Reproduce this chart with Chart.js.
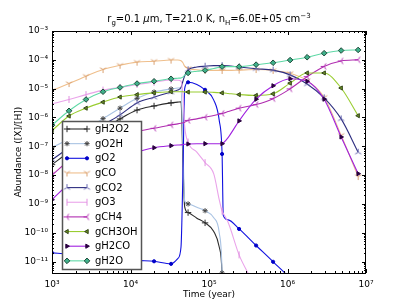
<!DOCTYPE html>
<html lang="en">
<head>
<meta charset="UTF-8">
<title>Grain abundances</title>
<script src="https://cdn.jsdelivr.net/npm/chart.js@4.4.1/dist/chart.umd.min.js"></script>
<style>
  html, body { margin: 0; padding: 0; background: #fff; }
  #wrap { width: 407px; height: 305px; }
</style>
</head>
<body>
<div id="wrap"><canvas id="chart" width="407" height="305"></canvas></div>
<script>
// time grid (years); markers sit on the rows listed in markedRows
const years = [1000, 1647, 2712, 4467, 7356, 12115, 19953, 32862, 40000, 44000, 46500, 49000,
  54117, 70000, 89125, 115000, 135000, 146780, 152000, 175000, 241732, 398107, 655642,
  1079800, 1778300, 2928600, 4823200, 7943300];
const markedRows = [0, 1, 2, 3, 4, 5, 6, 7, 12, 14, 17, 20, 21, 22, 23, 24, 25, 26, 27];

const gH2O2 = [2.3e-8, 6.3e-8, 1.6e-7, 3.8e-7, 8.9e-7, 1.8e-6, 2.5e-6, 3.2e-6, 3.4e-6, 3.5e-6, 3.2e-8, 7.9e-10,
  5e-10, 3.2e-10, 2.2e-10, 1.1e-10, 3.2e-11, 3.2e-12, 1e-14, 1e-15, 1e-15, 1e-15, 1e-15, 1e-15, 1e-15, 1e-15, 1e-15, 1e-15];
const gO2H = [8.9e-8, 1.8e-7, 3.8e-7, 9.1e-7, 2.1e-6, 4.6e-6, 7.6e-6, 9.8e-6, 1.05e-5, 1.07e-5, 1e-7, 1.26e-9,
  1e-9, 7.6e-10, 5.8e-10, 3.3e-10, 1e-10, 4e-12, 1e-14, 1e-15, 1e-15, 1e-15, 1e-15, 1e-15, 1e-15, 1e-15, 1e-15, 1e-15];
const gO2 = [2.0e-11, 1.8e-11, 1.6e-11, 1.4e-11, 1.26e-11, 1.1e-11, 1.02e-11, 8.3e-12, 1.26e-11, 3.2e-11, 1e-8, 1e-5,
  1.66e-5, 1.4e-5, 9.1e-6, 4e-6, 7.9e-7, 5.4e-8, 4e-10, 2.8e-10, 1.35e-10, 3.6e-11, 9.8e-12, 2.5e-12, 3.2e-13, 1e-14, 1e-15, 1e-15];
const gCO = [8.5e-6, 1.5e-5, 2.7e-5, 4.6e-5, 6.5e-5, 8.3e-5, 8.9e-5, 9.8e-5, 9.8e-5, 9.3e-5, 7.9e-5, 6.0e-5,
  5.0e-5, 4.5e-5, 4.3e-5, 4.3e-5, 4.3e-5, 4.3e-5, 4.3e-5, 4.3e-5, 4.4e-5, 4.6e-5, 4.3e-5, 3.4e-5, 1.9e-5, 5.0e-6, 2.4e-7, 8.9e-9];
const gCO2 = [3.4e-8, 8.9e-8, 2.2e-7, 5.4e-7, 1.23e-6, 3.2e-6, 5.0e-6, 7.6e-6, 8.9e-6, 1.1e-5, 1.8e-5, 2.8e-5,
  4.5e-5, 5.6e-5, 6.0e-5, 6.3e-5, 6.3e-5, 6.3e-5, 6.3e-5, 6.2e-5, 5.6e-5, 4.9e-5, 4.4e-5, 3.0e-5, 1.45e-5, 4.8e-6, 8.9e-7, 6.2e-8];
const gO3 = [2.95e-6, 4.2e-6, 6.2e-6, 8.9e-6, 1.1e-5, 1.4e-5, 1.66e-5, 2.0e-5, 1.95e-5, 1.8e-5, 6.3e-6, 5.0e-7,
  1.4e-7, 6.3e-8, 2.7e-8, 1.1e-8, 1.4e-9, 5.6e-10, 4.7e-10, 2.3e-10, 1.7e-11, 1e-12, 1e-14, 1e-15, 1e-15, 1e-15, 1e-15, 1e-15];
const gCH4 = [1.0e-8, 3.2e-8, 7.9e-8, 1.6e-7, 2.5e-7, 3.3e-7, 4.2e-7, 5.5e-7, 6.0e-7, 6.3e-7, 6.5e-7, 6.8e-7,
  7.9e-7, 8.9e-7, 1.02e-6, 1.17e-6, 1.3e-6, 1.38e-6, 1.4e-6, 1.6e-6, 2.1e-6, 2.8e-6, 4.5e-6, 9.8e-6, 2.6e-5, 5.9e-5, 9.1e-5, 1.0e-4];
const gCH3OH = [3.5e-7, 1.12e-6, 2.1e-6, 3.4e-6, 5.1e-6, 6.2e-6, 7.1e-6, 7.8e-6, 7.8e-6, 7.8e-6, 7.8e-6, 7.7e-6,
  7.6e-6, 7.6e-6, 7.6e-6, 7.4e-6, 7.2e-6, 7.1e-6, 7.1e-6, 6.8e-6, 6.2e-6, 5.8e-6, 6.6e-6, 1.55e-5, 3.5e-5, 3.5e-5, 1.05e-5, 1.15e-6];
const gH2CO = [1.4e-9, 5e-9, 1.26e-8, 2.5e-8, 4.2e-8, 6.3e-8, 8.9e-8, 1.05e-7, 1.1e-7, 1.12e-7, 1.14e-7, 1.17e-7,
  1.2e-7, 1.23e-7, 1.23e-7, 1.23e-7, 1.23e-7, 1.23e-7, 1.3e-7, 2.0e-7, 7.6e-7, 4.3e-6, 1.26e-5, 2.2e-5, 1.8e-5, 4.3e-6, 2.1e-7, 1.12e-8];
const gH2O = [5.4e-7, 1.7e-6, 4.2e-6, 7.8e-6, 1.1e-5, 1.5e-5, 1.8e-5, 2.2e-5, 2.3e-5, 2.35e-5, 2.5e-5, 2.95e-5,
  3.5e-5, 4.0e-5, 4.3e-5, 5.0e-5, 5.5e-5, 5.8e-5, 5.8e-5, 5.8e-5, 5.8e-5, 6.8e-5, 7.9e-5, 9.8e-5, 1.23e-4, 1.7e-4, 2.1e-4, 2.2e-4];

const FONT = "'DejaVu Sans', sans-serif";

// little three-armed markers like matplotlib's tri_* symbols
function triMarker(color, angles) {
  const s = 3.5, c = document.createElement('canvas');
  c.width = c.height = 9;
  const g = c.getContext('2d');
  g.strokeStyle = color;
  g.lineWidth = 1;
  angles.forEach(a => {
    const r = a * Math.PI / 180;
    g.beginPath();
    g.moveTo(4.5, 4.5);
    g.lineTo(4.5 + s * Math.cos(r), 4.5 + s * Math.sin(r));
    g.stroke();
  });
  return c;
}

const series = [
  { label: 'gH2O2', data: gH2O2, color: '#2b2b2b', style: 'cross', r: 3.2, bg: '#2b2b2b', bd: '#2b2b2b' },
  { label: 'gO2H', data: gO2H, color: '#a9c3e3', style: 'star', r: 2.6, bg: '#a9c3e3', bd: '#444' },
  { label: 'gO2', data: gO2, color: '#1010e0', style: 'circle', r: 1.6, bg: '#0000c8', bd: '#0000c8' },
  { label: 'gCO', data: gCO, color: '#efbf8c', style: triMarker('#d9a070', [90, 210, 330]), r: 3, bg: '#efbf8c', bd: '#efbf8c' },
  { label: 'gCO2', data: gCO2, color: '#2e2e80', style: triMarker('#6a6ab0', [270, 30, 150]), r: 3, bg: '#2e2e80', bd: '#2e2e80' },
  { label: 'gO3', data: gO3, color: '#eaa4ea', style: 'line', rot: 90, r: 3.5, bg: '#eaa4ea', bd: '#e090e0' },
  { label: 'gCH4', data: gCH4, color: '#b02cb0', style: triMarker('#b02cb0', [180, 300, 60]), r: 3, bg: '#b02cb0', bd: '#b02cb0' },
  { label: 'gCH3OH', data: gCH3OH, color: '#9acd32', style: 'triangle', rot: -90, r: 2.4, bg: '#6b8e23', bd: '#33441a' },
  { label: 'gH2CO', data: gH2CO, color: '#a020e0', style: 'triangle', rot: 90, r: 2.4, bg: '#2a0040', bd: '#2a0040' },
  { label: 'gH2O', data: gH2O, color: '#5fd9a6', style: 'rectRot', r: 2.8, bg: '#3fb08a', bd: '#1f4a3a' }
];

const datasets = series.map((s, i) => ({
  label: s.label,
  data: years.map((t, k) => ({ x: t, y: s.data[k] })),
  borderColor: s.color,
  borderWidth: 1.1,
  fill: false,
  cubicInterpolationMode: 'monotone',
  pointStyle: s.style,
  rotation: s.rot || 0,
  pointRadius: ctx => markedRows.includes(ctx.dataIndex) ? s.r : 0,
  pointBackgroundColor: s.bg,
  pointBorderColor: s.bd,
  pointBorderWidth: 1,
  order: -i
}));

const supDigits = { '-': '\u207B', '0': '\u2070', '1': '\u00B9', '2': '\u00B2', '3': '\u00B3', '4': '\u2074',
  '5': '\u2075', '6': '\u2076', '7': '\u2077', '8': '\u2078', '9': '\u2079' };
function powerLabel(v) {
  const e = Math.log10(v);
  if (Math.abs(e - Math.round(e)) > 1e-6) return '';
  return '10' + String(Math.round(e)).split('').map(c => supDigits[c]).join('');
}

function line(ctx, x1, y1, x2, y2) {
  ctx.beginPath(); ctx.moveTo(x1, y1); ctx.lineTo(x2, y2); ctx.stroke();
}

const decor = {
  id: 'decor',
  afterDatasetsDraw(chart) {
    const ctx = chart.ctx, a = chart.chartArea, xs = chart.scales.x, ys = chart.scales.y;
    ctx.save();
    ctx.strokeStyle = '#000';
    ctx.lineWidth = 1;
    // ticks on all four sides, pointing in
    for (let e = 3; e <= 7; e++) {
      for (let m = 1; m <= 9; m++) {
        const v = m * Math.pow(10, e);
        if (v > 1e7) break;
        const px = Math.round(xs.getPixelForValue(v)) + 0.5;
        const len = m === 1 ? 4 : 2;
        line(ctx, px, a.bottom, px, a.bottom - len);
        line(ctx, px, a.top, px, a.top + len);
      }
    }
    for (let e = -12; e <= -3; e++) {
      for (let m = 1; m <= 9; m++) {
        const v = m * Math.pow(10, e);
        if (v < 4e-12 || v > 1e-3) continue;
        const py = Math.round(ys.getPixelForValue(v)) + 0.5;
        const len = m === 1 ? 4 : 2;
        line(ctx, a.left, py, a.left + len, py);
        line(ctx, a.right, py, a.right - len, py);
      }
    }
    ctx.strokeRect(a.left + 0.5, a.top + 0.5, a.right - a.left - 1, a.bottom - a.top);

    // legend box
    const lx = 62, ly = 121, lw = 79, lh = 148;
    ctx.fillStyle = '#fff';
    ctx.fillRect(lx, ly, lw, lh);
    ctx.strokeStyle = '#555';
    ctx.lineWidth = 1.5;
    ctx.strokeRect(lx + 0.5, ly + 0.5, lw, lh);
    ctx.font = '10px ' + FONT;
    ctx.textBaseline = 'middle';
    ctx.textAlign = 'left';
    chart.data.datasets.forEach((ds, i) => {
      const y = 129 + i * 14.65, s = series[i];
      ctx.strokeStyle = ds.borderColor;
      ctx.lineWidth = 1.1;
      line(ctx, 67, y, 87, y);
      if (Chart.helpers && Chart.helpers.drawPoint) {
        [67, 87].forEach(px => {
          ctx.fillStyle = s.bg;
          ctx.strokeStyle = s.bd;
          ctx.lineWidth = 1;
          Chart.helpers.drawPoint(ctx, { pointStyle: s.style, rotation: s.rot || 0, radius: s.r, borderWidth: 1 }, px, y);
        });
      }
      ctx.fillStyle = '#000';
      ctx.fillText(ds.label, 95, y + 0.5);
    });
    ctx.restore();
  },
  afterDraw(chart) {
    const ctx = chart.ctx;
    ctx.save();
    ctx.fillStyle = '#000';
    ctx.textBaseline = 'alphabetic';
    // title with sub/superscripts
    const parts = [
      { t: 'r' }, { t: 'g', sub: true }, { t: '=0.1 ' }, { t: '\u03BC', it: true }, { t: 'm, T=21.0 K, n' },
      { t: 'H', sub: true }, { t: '=6.0E+05 cm' }, { t: '\u22123', sup: true }
    ];
    const fontOf = p => (p.it ? 'italic ' : '') + ((p.sub || p.sup) ? '7px ' : '10px ') + FONT;
    let w = 0;
    parts.forEach(p => { ctx.font = fontOf(p); w += ctx.measureText(p.t).width; });
    let x = 209 - w / 2;
    parts.forEach(p => {
      ctx.font = fontOf(p);
      const dy = p.sub ? 3 : (p.sup ? -4 : 0);
      ctx.textAlign = 'left';
      ctx.fillText(p.t, x, 22 + dy);
      x += ctx.measureText(p.t).width;
    });
    // axis titles
    ctx.font = '9px ' + FONT;
    ctx.textAlign = 'center';
    ctx.textBaseline = 'middle';
    ctx.fillText('Time (year)', 209, 295);
    ctx.translate(19, 152);
    ctx.rotate(-Math.PI / 2);
    ctx.fillText('Abundance ([X]/[H])', 0, 0);
    ctx.restore();
  }
};

new Chart(document.getElementById('chart'), {
  type: 'line',
  data: { datasets },
  options: {
    responsive: false,
    animation: false,
    devicePixelRatio: 1,
    layout: { padding: { top: 31, right: 41, left: 0, bottom: 0 } },
    plugins: { legend: { display: false }, tooltip: { enabled: false } },
    scales: {
      x: {
        type: 'logarithmic', min: 1e3, max: 1e7,
        grid: { display: false, drawTicks: false }, border: { display: false },
        ticks: { autoSkip: false, maxRotation: 0, padding: 6, color: '#000', font: { family: FONT, size: 9 }, callback: powerLabel },
        afterFit: s => { s.height = 32; }
      },
      y: {
        type: 'logarithmic', min: 4e-12, max: 1e-3,
        grid: { display: false, drawTicks: false }, border: { display: false },
        ticks: { autoSkip: false, padding: 4, color: '#000', font: { family: FONT, size: 9 }, callback: powerLabel },
        afterFit: s => { s.width = 52; }
      }
    }
  },
  plugins: [decor]
});
</script>
</body>
</html>
